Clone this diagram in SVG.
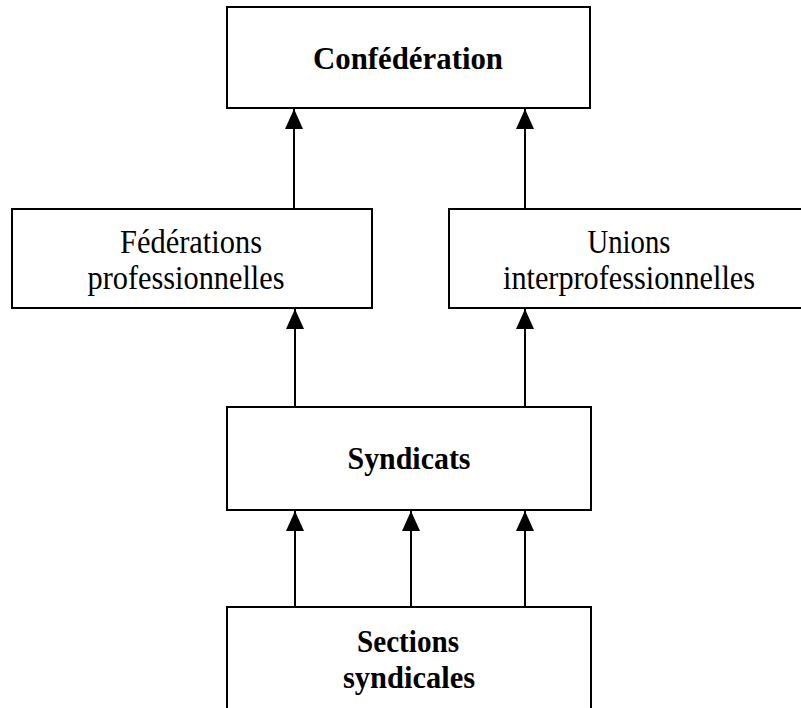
<svg xmlns="http://www.w3.org/2000/svg" width="801" height="708" viewBox="0 0 801 708">
  <style>
    .box { fill: #ffffff; stroke: #000000; stroke-width: 2; }
    .lbl { font-family: "Liberation Serif", "Times New Roman", serif; font-size: 33px; fill: #000000; text-anchor: middle; }
    .bold { font-weight: bold; font-size: 32px; }
    .link { stroke: #000000; stroke-width: 2; fill: none; marker-end: url(#head); }
  </style>
  <defs>
    <marker id="head" markerUnits="userSpaceOnUse" markerWidth="20" markerHeight="18" viewBox="0 0 20 18" refX="20" refY="9" orient="auto">
      <path d="M0,0 L20,9 L0,18 Z" fill="#000000"/>
    </marker>
  </defs>
  <rect width="801" height="708" fill="#ffffff"/>

  <g id="connectors">
    <line class="link" x1="294" y1="209" x2="294" y2="109"/>
    <line class="link" x1="525" y1="209" x2="525" y2="109"/>
    <line class="link" x1="295" y1="407" x2="295" y2="309"/>
    <line class="link" x1="525" y1="407" x2="525" y2="309"/>
    <line class="link" x1="295" y1="607" x2="295" y2="511"/>
    <line class="link" x1="411" y1="607" x2="411" y2="511"/>
    <line class="link" x1="525" y1="607" x2="525" y2="511"/>
  </g>

  <g id="confederation">
    <rect class="box" x="227" y="7" width="363" height="101"/>
    <text class="lbl bold" x="408" y="69" textLength="190" lengthAdjust="spacingAndGlyphs">Confédération</text>
  </g>

  <g id="federations">
    <rect class="box" x="12" y="209" width="360" height="99"/>
    <text class="lbl" x="191" y="253" textLength="142" lengthAdjust="spacingAndGlyphs">Fédérations</text>
    <text class="lbl" x="186" y="289" textLength="197" lengthAdjust="spacingAndGlyphs">professionnelles</text>
  </g>

  <g id="unions">
    <rect class="box" x="449" y="209" width="370" height="99"/>
    <text class="lbl" x="629" y="253" textLength="83" lengthAdjust="spacingAndGlyphs">Unions</text>
    <text class="lbl" x="629" y="289" textLength="252" lengthAdjust="spacingAndGlyphs">interprofessionnelles</text>
  </g>

  <g id="syndicats">
    <rect class="box" x="227" y="407" width="364" height="103"/>
    <text class="lbl bold" x="409" y="469" textLength="123" lengthAdjust="spacingAndGlyphs">Syndicats</text>
  </g>

  <g id="sections">
    <rect class="box" x="227" y="607" width="364" height="120"/>
    <text class="lbl bold" x="408" y="652" textLength="102" lengthAdjust="spacingAndGlyphs">Sections</text>
    <text class="lbl bold" x="409" y="688" textLength="132" lengthAdjust="spacingAndGlyphs">syndicales</text>
  </g>
</svg>
